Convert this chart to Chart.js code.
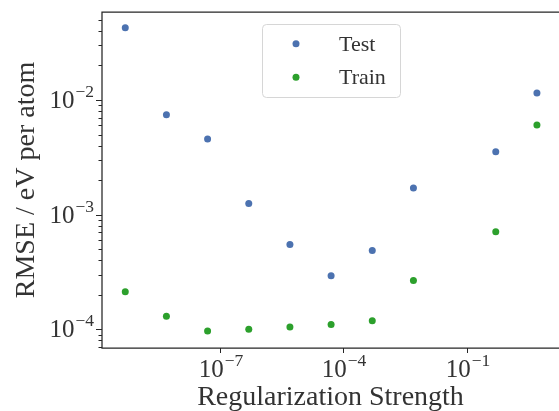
<!DOCTYPE html>
<html>
<head>
<meta charset="utf-8">
<script src="https://cdn.jsdelivr.net/npm/chart.js@4.4.1/dist/chart.umd.min.js"></script>
<style>
  html, body { margin: 0; padding: 0; background: #fff; }
  #chart { display: block; }
</style>
</head>
<body>
<canvas id="chart" width="559" height="411"></canvas>
<script>
// regularization sweep
const alphas = [5e-10, 5e-9, 5e-8, 5e-7, 5e-6, 5e-5, 5e-4, 5e-3, 5e-1, 5];
const testRmse = [0.0427, 0.00744, 0.00457, 0.00125, 0.00055, 0.000293, 0.000488, 0.00171, 0.00354, 0.0115];
const trainRmse = [0.000213, 0.000130, 0.0000967, 0.000100, 0.000105, 0.000110, 0.000119, 0.000267, 0.000711, 0.00605];

const seriesNames = ['Test', 'Train'];
const seriesColors = ['#4c72b0', '#2ca02c'];
const xTicks = [1e-7, 1e-4, 1e-1];
const yTicks = [1e-4, 1e-3, 1e-2];
const xTitle = 'Regularization Strength';
const yTitle = 'RMSE / eV per atom';

const ink = '#262626';
const textInk = '#333333';
const serif = '"Liberation Serif", "DejaVu Serif", serif';

// "10" with a raised exponent, like mathtext
function drawPower(ctx, value, x, y, align) {
  const exp = Math.round(Math.log10(value));
  const sup = (exp < 0 ? '\u2212' : '') + Math.abs(exp);
  ctx.font = '25px ' + serif;
  const wb = ctx.measureText('10').width;
  ctx.font = '17.5px ' + serif;
  const ws = ctx.measureText(sup).width;
  let start = x - (wb + ws) / 2;
  if (align === 'right') start = x - wb - ws;
  ctx.textAlign = 'left';
  ctx.textBaseline = 'alphabetic';
  ctx.font = '25px ' + serif;
  ctx.fillText('10', start, y);
  ctx.font = '17.5px ' + serif;
  ctx.fillText(sup, start + wb + 1, y - 11);
}

const axesPlugin = {
  id: 'axesPlugin',
  afterDraw(chart) {
    const ctx = chart.ctx;
    const a = chart.chartArea;
    const xs = chart.scales.x;
    const ys = chart.scales.y;
    ctx.save();
    ctx.strokeStyle = ink;

    // frame (right spine falls just outside the picture)
    ctx.lineWidth = 1.25;
    ctx.beginPath();
    ctx.moveTo(a.right + 2, a.top);
    ctx.lineTo(a.left, a.top);
    ctx.lineTo(a.left, a.bottom);
    ctx.lineTo(a.right + 2, a.bottom);
    ctx.stroke();

    // x ticks
    ctx.lineWidth = 1;
    ctx.fillStyle = textInk;
    xTicks.forEach(v => {
      const px = Math.round(xs.getPixelForValue(v)) + 0.5;
      ctx.beginPath();
      ctx.moveTo(px, a.bottom);
      ctx.lineTo(px, a.bottom + 5);
      ctx.stroke();
      drawPower(ctx, v, px, a.bottom + 29, 'center');
    });

    // y ticks, majors and minors
    const lo = Math.floor(Math.log10(ys.min));
    const hi = Math.ceil(Math.log10(ys.max));
    for (let e = lo; e <= hi; e++) {
      for (let m = 1; m <= 9; m++) {
        const v = m * Math.pow(10, e);
        if (v < ys.min || v > ys.max) continue;
        const py = Math.round(ys.getPixelForValue(v)) + 0.5;
        const len = m === 1 ? 6 : 3.5;
        ctx.beginPath();
        ctx.moveTo(a.left, py);
        ctx.lineTo(a.left - len, py);
        ctx.stroke();
      }
    }
    yTicks.forEach(v => {
      const py = ys.getPixelForValue(v);
      drawPower(ctx, v, a.left - 9, py + 8, 'right');
    });

    // axis titles
    ctx.font = '28px ' + serif;
    ctx.textAlign = 'center';
    ctx.textBaseline = 'alphabetic';
    ctx.fillText(xTitle, (a.left + a.right) / 2, 405);
    ctx.save();
    ctx.translate(34, (a.top + a.bottom) / 2);
    ctx.rotate(-Math.PI / 2);
    ctx.fillText(yTitle, 0, 0);
    ctx.restore();

    // legend
    ctx.fillStyle = 'rgba(255,255,255,0.8)';
    ctx.strokeStyle = '#d6d6d6';
    ctx.lineWidth = 1;
    ctx.beginPath();
    ctx.roundRect(262.5, 24.5, 138, 73, 4);
    ctx.fill();
    ctx.stroke();
    const rows = [43.7, 77.3];
    seriesNames.forEach((name, i) => {
      ctx.fillStyle = seriesColors[i];
      ctx.beginPath();
      ctx.arc(296, rows[i], 3.5, 0, Math.PI * 2);
      ctx.fill();
      ctx.fillStyle = textInk;
      ctx.font = '22px ' + serif;
      ctx.textAlign = 'left';
      ctx.fillText(name, 339, rows[i] + 7);
    });
    ctx.restore();
  }
};

const ctx = document.getElementById('chart').getContext('2d');
new Chart(ctx, {
  type: 'scatter',
  data: {
    datasets: [
      {
        label: seriesNames[0],
        data: alphas.map((a, i) => ({ x: a, y: testRmse[i] })),
        backgroundColor: seriesColors[0],
        borderWidth: 0,
        pointRadius: 3.5
      },
      {
        label: seriesNames[1],
        data: alphas.map((a, i) => ({ x: a, y: trainRmse[i] })),
        backgroundColor: seriesColors[1],
        borderWidth: 0,
        pointRadius: 3.5
      }
    ]
  },
  options: {
    responsive: false,
    animation: false,
    devicePixelRatio: 1,
    layout: { autoPadding: false, padding: { top: 12, left: 0, right: 0, bottom: 0 } },
    plugins: {
      legend: { display: false },
      tooltip: { enabled: false }
    },
    scales: {
      x: {
        type: 'logarithmic',
        min: Math.pow(10, -9.866),
        max: Math.pow(10, 1.235),
        ticks: { display: false },
        grid: { display: false },
        border: { display: false },
        afterFit(scale) { scale.height = 63; }
      },
      y: {
        type: 'logarithmic',
        min: Math.pow(10, -4.163),
        max: Math.pow(10, -1.2325),
        ticks: { display: false },
        grid: { display: false },
        border: { display: false },
        afterFit(scale) { scale.width = 102; }
      }
    }
  },
  plugins: [axesPlugin]
});
</script>
</body>
</html>
